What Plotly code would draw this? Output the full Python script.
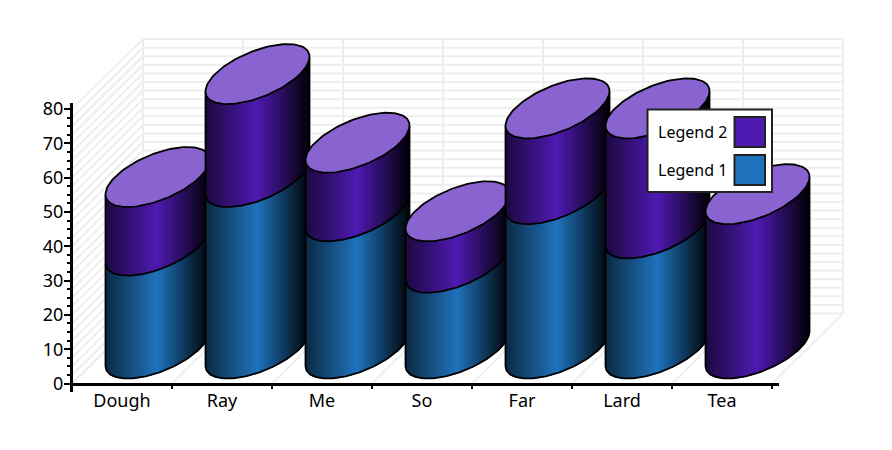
import numpy as np
import plotly.graph_objects as go

# ---- chart data ----
categories = ["Dough", "Ray", "Me", "So", "Far", "Lard", "Tea"]
legend_1_values = [30, 50, 40, 25, 45, 35, 0]
legend_2_values = [20, 30, 20, 15, 25, 35, 45]
series_names = ["Legend 1", "Legend 2"]
y_tick_values = [0, 10, 20, 30, 40, 50, 60, 70, 80]
grid_values = [i * 2.5 for i in range(33)]

# ---- styling / projection ----
W, H = 892, 450
X0_PX, Y0_PX = 122.0, 383.5     # pixel of first category centre / of value 0
PX_CAT, PX_UNIT = 100.0, 3.43   # pixels per category / per value unit
DEPTH_DX, DEPTH_DY = 71.0, 70.0 # oblique depth in pixels
A, B, C = 42.5, 30.0, 30.0      # ellipse shape, pixels
HALF_W = 52.0
BLUE = np.array([31, 115, 189])
PURPLE = np.array([79, 26, 178])
CAP = "#8964d1"
GRID = "#eeeeee"
FONT = "Noto Sans"
OUTLINE = 1.8


def dx(px):
    return np.asarray(px, float) / PX_CAT


def dy(px):
    return np.asarray(px, float) / PX_UNIT


def lower_arc(u):
    """Lower-edge height (px, up positive) of the sheared ellipse at offset u."""
    u = np.asarray(u, float)
    k = B / C
    qa = k * k / A ** 2 + 1 / C ** 2
    qb = -2 * k * u / A ** 2
    qc = u * u / A ** 2 - 1
    disc = np.clip(qb * qb - 4 * qa * qc, 0, None)
    return (-qb - np.sqrt(disc)) / (2 * qa)


def shade(base, f):
    g = 0.35 + 0.65 * f / 0.5 if f <= 0.5 else 1 - 0.97 * (f - 0.5) / 0.5
    r, gg, b = (base * g).astype(int)
    return f"rgb({r},{gg},{b})"


fig = go.Figure()


def line(xs, ys, color, width):
    fig.add_trace(go.Scatter(x=xs, y=ys, mode="lines", line=dict(color=color, width=width),
                             hoverinfo="skip", showlegend=False, xaxis="x", yaxis="y"))


# ---- walls and floor ----
left, right = -0.5, len(categories) - 0.5
ox, oy = float(dx(DEPTH_DX)), float(dy(DEPTH_DY))
for v in grid_values:
    line([left + ox, right + ox], [v + oy, v + oy], GRID, 2)
    line([left, left + ox], [v, v + oy], GRID, 2)
for i in range(len(categories) + 1):
    xb = left + i
    line([xb + ox, xb + ox], [oy, grid_values[-1] + oy], GRID, 2)
    line([xb, xb + ox], [0, oy], GRID, 2)

# ---- cylinders ----
cx_off, cy_off = float(dx(DEPTH_DX / 2)), float(dy(DEPTH_DY / 2))
edges = np.arange(-HALF_W, HALF_W + 0.01, 1.0)
t = np.linspace(0, 2 * np.pi, 121)
arc_u = np.linspace(-HALF_W, HALF_W, 105)

for i, cat in enumerate(categories):
    cx = i + cx_off
    stack = [(0, legend_1_values[i], BLUE), (legend_1_values[i], legend_1_values[i] + legend_2_values[i], PURPLE)]
    for v0, v1, col in stack:
        if v1 <= v0:
            continue
        for u0, u1 in zip(edges[:-1], edges[1:]):
            c = shade(col, ((u0 + u1) / 2 + HALF_W) / (2 * HALF_W))
            us = np.array([u0, u1, u1, u0, u0])
            vs = np.array([v0, v0, v1, v1, v0])
            ys = vs + cy_off + dy(lower_arc(us))
            fig.add_trace(go.Scatter(x=cx + dx(us), y=ys, mode="lines", fill="toself",
                                     fillcolor=c, line=dict(color=c, width=1),
                                     hoverinfo="skip", showlegend=False, xaxis="x", yaxis="y"))
    top = stack[1][1]
    base_y = cy_off + dy(lower_arc(arc_u))
    # silhouette
    xs = np.concatenate([[cx + dx(-HALF_W)], cx + dx(arc_u), [cx + dx(HALF_W)]])
    ys = np.concatenate([[top + base_y[0]], base_y, [top + base_y[-1]]])
    line(xs, ys, "black", OUTLINE)
    # interface
    if legend_1_values[i] > 0:
        line(cx + dx(arc_u), legend_1_values[i] + base_y, "black", OUTLINE)
    # cap
    fig.add_trace(go.Scatter(x=cx + dx(A * np.cos(t) + B * np.sin(t)),
                             y=top + cy_off + dy(C * np.sin(t)),
                             mode="lines", fill="toself", fillcolor=CAP,
                             line=dict(color="black", width=OUTLINE),
                             hoverinfo="skip", showlegend=False, xaxis="x", yaxis="y"))

# category axis helper trace
fig.add_trace(go.Scatter(x=categories, y=[0] * len(categories), mode="markers",
                         marker=dict(opacity=0), hoverinfo="skip", showlegend=False,
                         xaxis="x2", yaxis="y2"))

# ---- legend (swatches sit right of the text) ----
shapes = [dict(type="rect", xref="paper", yref="paper", x0=647.5 / W, x1=772 / W,
               y0=1 - 192 / H, y1=1 - 109.5 / H, fillcolor="white",
               line=dict(color="#222222", width=2), layer="above")]
annotations = []
legend_rows = [(series_names[1], PURPLE, 132), (series_names[0], BLUE, 170)]
for name, col, yc in legend_rows:
    shapes.append(dict(type="rect", xref="paper", yref="paper", x0=734.5 / W, x1=765 / W,
                       y0=1 - (yc + 15) / H, y1=1 - (yc - 15) / H,
                       fillcolor="rgb(%d,%d,%d)" % tuple(col),
                       line=dict(color="#222222", width=2), layer="above"))
    annotations.append(dict(text=name, xref="paper", yref="paper", x=655.5 / W, y=1 - yc / H,
                            xanchor="left", yanchor="middle", showarrow=False,
                            font=dict(family=FONT, size=16, color="black")))

X2_L, X2_R = 72, 779
Y2_TOP, Y2_BOT = 102.5, 391.5

fig.update_layout(
    width=W, height=H, autosize=False, margin=dict(l=0, r=0, t=0, b=0),
    paper_bgcolor="white", plot_bgcolor="rgba(0,0,0,0)", showlegend=False,
    xaxis=dict(domain=[0, 1], range=[(0 - X0_PX) / PX_CAT, (W - X0_PX) / PX_CAT], visible=False, automargin=False),
    yaxis=dict(domain=[0, 1], range=[(Y0_PX - H) / PX_UNIT, Y0_PX / PX_UNIT], visible=False, automargin=False),
    xaxis2=dict(domain=[X2_L / W, X2_R / W], anchor="free", position=1 - 383.5 / H, type="category", automargin=False,
                categoryorder="array", categoryarray=categories,
                range=[-0.5, -0.5 + (X2_R - X2_L) / PX_CAT], tickson="boundaries", ticks="outside",
                ticklen=3, tickwidth=2, tickcolor="black", showline=True, linewidth=3,
                linecolor="black", showgrid=False, zeroline=False, ticklabelstandoff=0,
                tickfont=dict(family=FONT, size=18, color="black")),
    yaxis2=dict(domain=[1 - Y2_BOT / H, 1 - Y2_TOP / H], anchor="free", position=71 / W,
                range=[(Y0_PX - Y2_BOT) / PX_UNIT, (Y0_PX - Y2_TOP) / PX_UNIT], automargin=False,
                tickmode="array", tickvals=y_tick_values, ticks="outside", ticklen=6,
                tickwidth=2, tickcolor="black", showline=True, linewidth=3, linecolor="black",
                showgrid=False, zeroline=False, ticklabelstandoff=-3,
                minor=dict(tick0=0, dtick=2.5, ticks="outside", ticklen=3, tickwidth=2,
                           tickcolor="black", showgrid=False),
                tickfont=dict(family=FONT, size=18, color="black")),
    shapes=shapes, annotations=annotations,
)

fig.write_html("out.html", config={"displayModeBar": False},
               post_script="document.body.style.margin='0';")
